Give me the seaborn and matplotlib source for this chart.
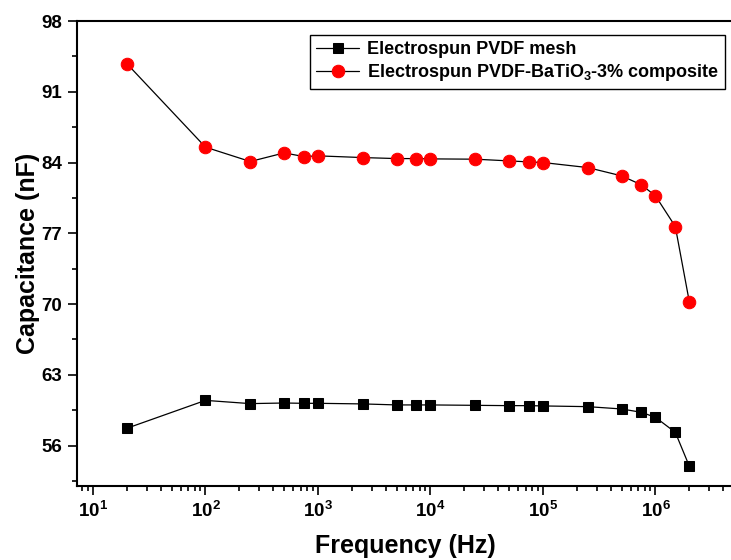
import numpy as np
import pandas as pd
import matplotlib.pyplot as plt
import matplotlib.ticker as mticker
import seaborn as sns

# frequency (Hz) shared by both series
freq = [20, 100, 250, 500, 750, 1000, 2500, 5000, 7500, 10000,
        25000, 50000, 75000, 100000, 250000, 500000, 750000,
        1000000, 1500000, 2000000]

# capacitance (nF)
cap_pvdf = [57.71, 60.47, 60.15, 60.21, 60.18, 60.18, 60.12, 60.02, 60.02, 60.02,
            59.98, 59.95, 59.95, 59.92, 59.85, 59.62, 59.29, 58.79, 57.31, 53.95]
cap_bto = [93.78, 85.52, 84.10, 84.95, 84.59, 84.66, 84.49, 84.39, 84.39, 84.36,
           84.33, 84.16, 84.06, 84.00, 83.50, 82.68, 81.79, 80.70, 77.67, 70.20]

label_pvdf = 'Electrospun PVDF mesh'
label_bto = r'Electrospun PVDF-BaTiO$_3$-3% composite'
x_ticks = [1e1, 1e2, 1e3, 1e4, 1e5, 1e6]
y_ticks = [56, 63, 70, 77, 84, 91, 98]

sns.set_style('ticks')
plt.rcParams['font.family'] = ['Liberation Sans', 'DejaVu Sans']
plt.rcParams['font.weight'] = 'bold'
plt.rcParams['text.color'] = 'black'
plt.rcParams['axes.labelcolor'] = 'black'
plt.rcParams['axes.edgecolor'] = 'black'
plt.rcParams['xtick.color'] = 'black'
plt.rcParams['ytick.color'] = 'black'
plt.rcParams['mathtext.fontset'] = 'custom'
plt.rcParams['mathtext.rm'] = 'Liberation Sans:bold'
plt.rcParams['mathtext.bf'] = 'Liberation Sans:bold'
plt.rcParams['mathtext.it'] = 'Liberation Sans:bold'

df = pd.DataFrame({'freq': freq, 'pvdf': cap_pvdf, 'bto': cap_bto})

# axes runs past the right edge of the picture, as in the cropped original
x_lo, x_hi = 10 ** 0.858, 9e6
right_px = 93 + (np.log10(x_hi) - 1) * 112.5
fig = plt.figure(figsize=(7.31, 5.6), dpi=100)
ax = fig.add_axes([77 / 731, 74 / 560, (right_px - 77) / 731, 465 / 560])

sns.lineplot(data=df, x='freq', y='pvdf', ax=ax, color='black', linewidth=0.9,
             marker='s', markersize=7.5, markerfacecolor='black',
             markeredgecolor='black', label=label_pvdf)
sns.lineplot(data=df, x='freq', y='bto', ax=ax, color='black', linewidth=0.9,
             marker='o', markersize=9, markerfacecolor='red',
             markeredgecolor='red', label=label_bto)

ax.set_xscale('log')
ax.set_xlim(x_lo, x_hi)
ax.set_ylim(52, 98)
ax.set_xticks(x_ticks)
ax.set_yticks(y_ticks)
ax.yaxis.set_minor_locator(mticker.MultipleLocator(3.5))
ax.xaxis.set_minor_locator(mticker.LogLocator(base=10, subs=np.arange(2, 10)))
ax.xaxis.set_minor_formatter(mticker.NullFormatter())

ax.tick_params(which='major', direction='out', length=6.5, width=1.2,
               labelsize=13.5, pad=4)
ax.tick_params(which='minor', direction='out', length=3.6, width=1.2)
ax.tick_params(top=False, right=False, which='both')
for lab in ax.get_yticklabels():
    lab.set_fontweight('bold')

for s in ax.spines.values():
    s.set_linewidth(1.5)
    s.set_visible(True)

ax.set_xlabel('Frequency (Hz)', fontsize=18, fontweight='bold')
ax.set_ylabel('Capacitance (nF)', fontsize=18, fontweight='bold', labelpad=1)
ax.xaxis.set_label_coords((405 - 77) / (right_px - 77), -0.104)

leg = ax.legend(loc='upper right', bbox_to_anchor=(725 / 731, 1 - 35 / 560),
                bbox_transform=fig.transFigure, borderaxespad=0,
                fancybox=False, framealpha=1, edgecolor='black',
                prop={'weight': 'bold', 'size': 13}, handlelength=2.4,
                handletextpad=0.4, borderpad=0.35, labelspacing=0.2)
leg.get_frame().set_linewidth(1.0)

fig.savefig('out.png', dpi=100)
